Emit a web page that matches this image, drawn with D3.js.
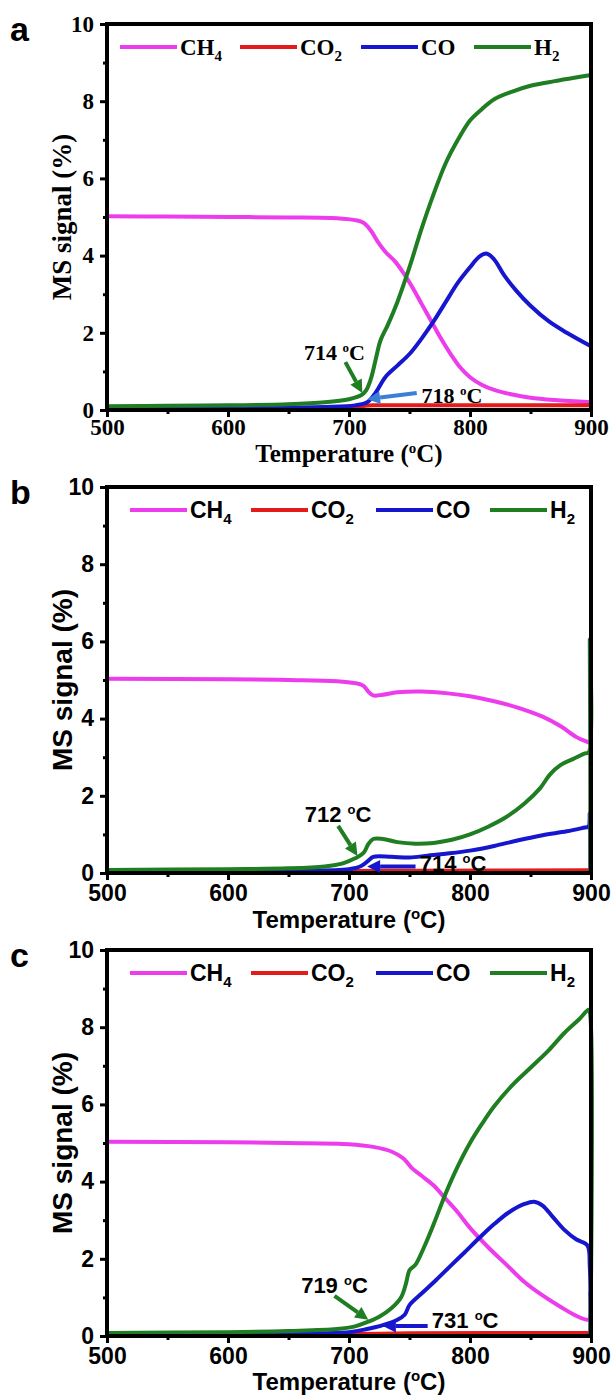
<!DOCTYPE html>
<html lang="en">
<head>
<meta charset="UTF-8">
<title>MS signal vs temperature</title>
<script src="https://d3js.org/d3.v7.min.js"></script>
<style>
    body { margin: 0; background: #fff; }
    svg { display: block; }
</style>
</head>
<body>
<svg width="614" height="1396" id="chart"></svg>
<script>
    // axes
    const xTicks = [500, 600, 700, 800, 900];
    const xMinor = [550, 650, 750, 850];
    const yTicks = [0, 2, 4, 6, 8, 10];
    const yMinor = [1, 3, 5, 7, 9];
    const seriesNames = [["CH", "4"], ["CO", "2"], ["CO", ""], ["H", "2"]];
    const seriesColors = ["#ec3cec", "#e31b1b", "#1616cf", "#1f7d22"];

    // panel a : [temperature, signal]
    const aCH4 = [[500,5.02],[550,5.01],[600,5.0],[650,4.99],[690,4.97],[705,4.92],[712,4.85],[718,4.65],[724,4.35],[730,4.1],[738,3.85],[745,3.55],[752,3.2],[760,2.75],[768,2.3],[776,1.85],[784,1.45],[792,1.1],[800,0.85],[810,0.65],[820,0.52],[835,0.4],[850,0.32],[870,0.26],[900,0.2]];
    const aCO2 = [[500,0.04],[650,0.05],[700,0.07],[720,0.12],[760,0.12],[900,0.12]];
    const aCO = [[500,0.05],[600,0.06],[680,0.08],[705,0.12],[715,0.2],[722,0.45],[730,0.85],[740,1.15],[750,1.45],[760,1.85],[770,2.3],[780,2.8],[790,3.3],[800,3.7],[808,3.98],[814,4.05],[820,3.9],[828,3.5],[838,3.1],[850,2.7],[865,2.3],[880,2.0],[900,1.65]];
    const aH2 = [[500,0.1],[550,0.11],[600,0.12],[650,0.15],[680,0.2],[700,0.28],[710,0.38],[714,0.5],[718,0.8],[722,1.3],[726,1.8],[732,2.2],[740,2.8],[750,3.7],[760,4.7],[770,5.6],[780,6.4],[790,7.0],[800,7.5],[810,7.8],[820,8.05],[835,8.25],[850,8.4],[870,8.52],[885,8.6],[900,8.68]];

    // panel b
    const bCH4 = [[500,5.03],[600,5.02],[650,5.0],[690,4.97],[705,4.92],[712,4.85],[716,4.7],[720,4.6],[728,4.62],[740,4.68],[760,4.7],[780,4.66],[800,4.58],[820,4.45],[840,4.28],[860,4.05],[875,3.8],[888,3.52],[898,3.38],[900,3.35]];
    const bCO2 = [[500,0.04],[700,0.05],[750,0.06],[900,0.07]];
    const bCO = [[500,0.05],[650,0.06],[700,0.1],[710,0.18],[716,0.32],[720,0.42],[735,0.42],[750,0.4],[765,0.45],[780,0.5],[800,0.58],[820,0.7],[840,0.85],[860,0.98],[880,1.08],[895,1.18],[898,1.2],[899,1.55],[899.5,0.05]];
    const bH2 = [[500,0.08],[600,0.1],[650,0.12],[680,0.17],[695,0.25],[705,0.38],[712,0.52],[716,0.75],[720,0.88],[728,0.88],[740,0.8],[755,0.76],[770,0.78],[785,0.86],[800,1.0],[815,1.2],[830,1.45],[845,1.8],[858,2.2],[866,2.55],[875,2.8],[885,2.95],[895,3.1],[898,3.12],[899,6.05],[899.5,0.05]];

    // panel c
    const cCH4 = [[500,5.03],[600,5.02],[650,5.0],[700,4.97],[720,4.9],[735,4.78],[745,4.6],[752,4.35],[760,4.15],[770,3.9],[780,3.55],[790,3.2],[800,2.8],[815,2.3],[830,1.85],[845,1.4],[860,1.05],[875,0.75],[888,0.52],[897,0.42],[899,0.45],[899.3,1.15]];
    const cCO2 = [[500,0.04],[700,0.05],[750,0.07],[900,0.08]];
    const cCO = [[500,0.05],[650,0.07],[700,0.1],[715,0.18],[728,0.28],[740,0.42],[746,0.55],[750,0.8],[760,1.1],[772,1.45],[785,1.85],[795,2.15],[808,2.55],[820,2.9],[832,3.2],[845,3.42],[853,3.48],[860,3.38],[868,3.1],[878,2.75],[888,2.5],[897,2.35],[899,1.8],[899.5,0.05]];
    const cH2 = [[500,0.08],[600,0.1],[650,0.13],[690,0.18],[705,0.25],[715,0.36],[725,0.5],[735,0.72],[743,1.0],[747,1.35],[750,1.7],[755,1.85],[762,2.3],[770,2.9],[780,3.7],[790,4.4],[800,5.0],[810,5.5],[820,5.95],[835,6.5],[850,6.95],[865,7.4],[878,7.85],[890,8.2],[898,8.45],[899,8.4],[899.5,0.05]];

    // onset labels: label, text position, arrow from -> to (data units)
    const aNotes = [
        { label: "714", at: [688, 1.5], from: [697, 1.24], to: [711, 0.44], color: "#1f7d22" },
        { label: "718", at: [785, 0.39], from: [756, 0.44], to: [715, 0.28], color: "#3c7fd6" }
    ];
    const bNotes = [
        { label: "712", at: [691, 1.53], from: [691, 1.22], to: [707, 0.44], color: "#1f7d22" },
        { label: "714", at: [786, 0.26], from: [755, 0.17], to: [715, 0.17], color: "#1616cf" }
    ];
    const cNotes = [
        { label: "719", at: [688, 1.32], from: [688, 1.04], to: [716, 0.42], color: "#1f7d22" },
        { label: "731", at: [796, 0.42], from: [765, 0.26], to: [728, 0.26], color: "#1616cf" }
    ];

    const serif = "'Liberation Serif', 'Times New Roman', serif";
    const sans = "'Liberation Sans', Arial, sans-serif";

    const panels = [
        { letter: "a", top: 24, font: serif, series: [aCH4, aCO2, aCO, aH2], notes: aNotes, legendX: [13, 133, 254, 367], yTitle: 27, xPad: 2, xTitleDy: 52, xTitle: 25 },
        { letter: "b", top: 487, font: sans, series: [bCH4, bCO2, bCO, bH2], notes: bNotes, legendX: [23, 144, 269, 383], yTitle: 28, xPad: 5, xTitleDy: 55, xTitle: 24 },
        { letter: "c", top: 950, font: sans, series: [cCH4, cCO2, cCO, cH2], notes: cNotes, legendX: [23, 144, 269, 383], yTitle: 28, xPad: 5, xTitleDy: 54, xTitle: 24 }
    ];

    const svg = d3.select("#chart");
    const left = 107, right = 591, plotH = 386;

    const x = d3.scaleLinear().domain([500, 900]).range([left, right]);

    function drawArrow(g, x1, y1, x2, y2, color) {
        const ang = Math.atan2(y2 - y1, x2 - x1);
        const hl = 13, hw = 6.5;
        const bx = x2 - hl * Math.cos(ang), by = y2 - hl * Math.sin(ang);
        g.append("line")
            .attr("x1", x1).attr("y1", y1)
            .attr("x2", bx).attr("y2", by)
            .attr("stroke", color)
            .attr("stroke-width", 4);
        const px = -Math.sin(ang) * hw, py = Math.cos(ang) * hw;
        g.append("path")
            .attr("d", `M${x2},${y2}L${bx + px},${by + py}L${bx - px},${by - py}Z`)
            .attr("fill", color);
    }

    panels.forEach(p => {
        const g = svg.append("g").style("font-family", p.font).style("font-weight", "bold");
        const y = d3.scaleLinear().domain([0, 10]).range([p.top + plotH, p.top]);
        const bottom = p.top + plotH;

        // curves
        const line = d3.line()
            .x(d => x(d[0]))
            .y(d => y(d[1]))
            .curve(d3.curveCatmullRom.alpha(0.5));

        p.series.forEach((s, i) => {
            g.append("path")
                .datum(s)
                .attr("d", line)
                .attr("fill", "none")
                .attr("stroke", seriesColors[i])
                .attr("stroke-width", 4)
                .attr("stroke-linejoin", "round");
        });

        // frame
        g.append("rect")
            .attr("x", left).attr("y", p.top)
            .attr("width", right - left).attr("height", plotH)
            .attr("fill", "none")
            .attr("stroke", "black")
            .attr("stroke-width", 4);

        // x axis
        const xa = g.append("g")
            .attr("transform", `translate(0,${bottom})`)
            .call(d3.axisBottom(x).tickValues(xTicks).tickSize(7).tickSizeOuter(0).tickPadding(p.xPad));
        g.append("g")
            .attr("transform", `translate(0,${bottom})`)
            .call(d3.axisBottom(x).tickValues(xMinor).tickSize(4).tickFormat(""))
            .call(a => a.select(".domain").remove())
            .selectAll("line").attr("stroke-width", 3);
        xa.select(".domain").remove();
        xa.selectAll("line").attr("stroke-width", 3);
        xa.selectAll("text")
            .attr("fill", "black")
            .style("font-family", p.font)
            .style("font-size", "23px");

        // y axis
        const ya = g.append("g")
            .attr("transform", `translate(${left},0)`)
            .call(d3.axisLeft(y).tickValues(yTicks).tickSize(7).tickSizeOuter(0).tickPadding(6));
        g.append("g")
            .attr("transform", `translate(${left},0)`)
            .call(d3.axisLeft(y).tickValues(yMinor).tickSize(4).tickFormat(""))
            .call(a => a.select(".domain").remove())
            .selectAll("line").attr("stroke-width", 3);
        ya.select(".domain").remove();
        ya.selectAll("line").attr("stroke-width", 3);
        ya.selectAll("text")
            .attr("fill", "black")
            .style("font-family", p.font)
            .style("font-size", "23px");

        // axis titles
        const xt = g.append("text")
            .attr("x", (left + right) / 2)
            .attr("y", bottom + p.xTitleDy)
            .attr("text-anchor", "middle")
            .style("font-size", p.xTitle + "px")
            .text("Temperature (");
        xt.append("tspan").attr("dy", -9).style("font-size", "15px").text("o");
        xt.append("tspan").attr("dy", 9).text("C)");

        g.append("text")
            .attr("transform", `translate(62,${p.top + plotH / 2}) rotate(-90)`)
            .attr("text-anchor", "middle")
            .attr("dy", "0.35em")
            .style("font-size", p.yTitle + "px")
            .text("MS signal (%)");

        // panel letter
        g.append("text")
            .attr("x", 10)
            .attr("y", p.top + 17)
            .style("font-family", sans)
            .style("font-size", "34px")
            .text(p.letter);

        // legend
        const ly = p.top + 23;
        p.legendX.forEach((lx, i) => {
            g.append("line")
                .attr("x1", left + lx).attr("x2", left + lx + 57)
                .attr("y1", ly).attr("y2", ly)
                .attr("stroke", seriesColors[i])
                .attr("stroke-width", 4);
            const t = g.append("text")
                .attr("x", left + lx + 60)
                .attr("y", ly + 8)
                .style("font-size", "23px")
                .text(seriesNames[i][0]);
            if (seriesNames[i][1]) {
                t.append("tspan").attr("dy", 6).style("font-size", "15px").text(seriesNames[i][1]);
            }
        });

        // onset annotations
        p.notes.forEach(n => {
            drawArrow(g, x(n.from[0]), y(n.from[1]), x(n.to[0]), y(n.to[1]), n.color);
            const t = g.append("text")
                .attr("x", x(n.at[0]))
                .attr("y", y(n.at[1]))
                .attr("dy", "0.36em")
                .attr("text-anchor", "middle")
                .style("font-size", "22px")
                .text(n.label + " ");
            t.append("tspan").attr("dy", -8).style("font-size", "13px").text("o");
            t.append("tspan").attr("dy", 8).text("C");
        });
    });
</script>
</body>
</html>
